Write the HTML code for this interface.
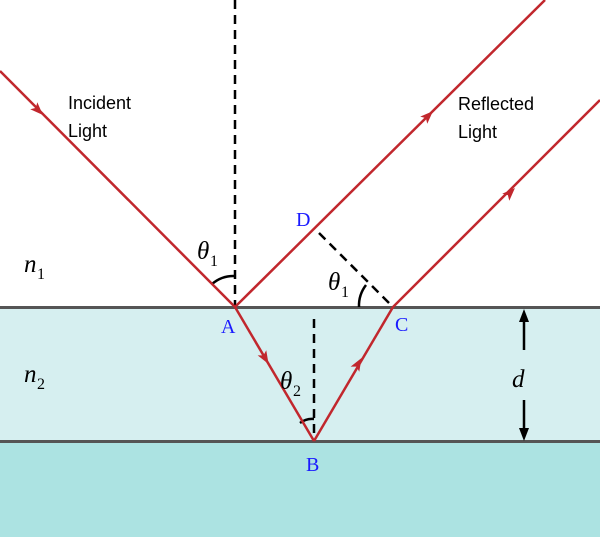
<!DOCTYPE html>
<html><head><meta charset="utf-8"><style>body{margin:0}svg{display:block}</style></head>
<body>
<svg width="600" height="537" viewBox="0 0 600 537" xmlns="http://www.w3.org/2000/svg" font-family="Liberation Serif, serif">
<rect width="600" height="537" fill="#fff"/>
<rect y="307" width="600" height="135" fill="#d6eff0"/>
<rect y="442" width="600" height="95" fill="#ace3e2"/>
<line x1="0" y1="307.5" x2="600" y2="307.5" stroke="#555" stroke-width="3"/>
<line x1="0" y1="441.5" x2="600" y2="441.5" stroke="#555" stroke-width="3"/>
<g stroke="#000" stroke-width="2.5" stroke-dasharray="9,6" fill="none">
<line x1="235" y1="0" x2="235" y2="307"/>
<line x1="314" y1="319" x2="314" y2="441"/>
<line x1="319" y1="233" x2="393" y2="307"/>
</g>
<g stroke="#000" stroke-width="2.5" fill="none">
<path d="M212 284 A33 33 0 0 1 235 276"/>
<path d="M359 307 A34 34 0 0 1 366 285"/>
<path d="M300 423 A20 20 0 0 1 314 419"/>
</g>
<g stroke="#c1272d" stroke-width="2.5" fill="none">
<line x1="0" y1="71" x2="235" y2="307"/>
<line x1="235" y1="307" x2="545" y2="0"/>
<line x1="235" y1="307" x2="314" y2="441"/>
<line x1="314" y1="441" x2="393" y2="307"/>
<line x1="393" y1="307" x2="600" y2="100"/>
</g>
<g fill="#c1272d">
<polygon points="7,0 -6,-5 -3,0 -6,5" transform="translate(38,110) rotate(45)"/>
<polygon points="7,0 -6,-5 -3,0 -6,5" transform="translate(428,116) rotate(-44.7)"/>
<polygon points="7,0 -6,-5 -3,0 -6,5" transform="translate(265,358) rotate(59.5)"/>
<polygon points="7,0 -6,-5 -3,0 -6,5" transform="translate(358,364) rotate(-59.5)"/>
<polygon points="7,0 -6,-5 -3,0 -6,5" transform="translate(510,193) rotate(-45)"/>
</g>
<g stroke="#000" stroke-width="2.5">
<line x1="524" y1="318" x2="524" y2="350"/>
<line x1="524" y1="400" x2="524" y2="432"/>
</g>
<polygon points="524,309 519,322 529,322"/>
<polygon points="524,441 519,428 529,428"/>
<g font-family="Liberation Sans, sans-serif" font-size="18" fill="#000">
<text x="68" y="109">Incident</text><text x="68" y="137">Light</text>
<text x="458" y="110">Reflected</text><text x="458" y="138">Light</text>
</g>
<g fill="#1a1aff" font-size="20">
<text x="221" y="333">A</text><text x="306" y="471">B</text>
<text x="395" y="331">C</text><text x="296" y="226">D</text>
</g>
<g font-style="italic" font-size="25" fill="#000">
<text x="197" y="259">θ</text><text x="210" y="266" font-size="16" font-style="normal">1</text>
<text x="328" y="290">θ</text><text x="341" y="297" font-size="16" font-style="normal">1</text>
<text x="280" y="389">θ</text><text x="293" y="396" font-size="16" font-style="normal">2</text>
<text x="24" y="272">n</text><text x="37" y="279" font-size="16" font-style="normal">1</text>
<text x="24" y="382">n</text><text x="37" y="389" font-size="16" font-style="normal">2</text>
<text x="512" y="387">d</text>
</g>
</svg>
</body></html>
